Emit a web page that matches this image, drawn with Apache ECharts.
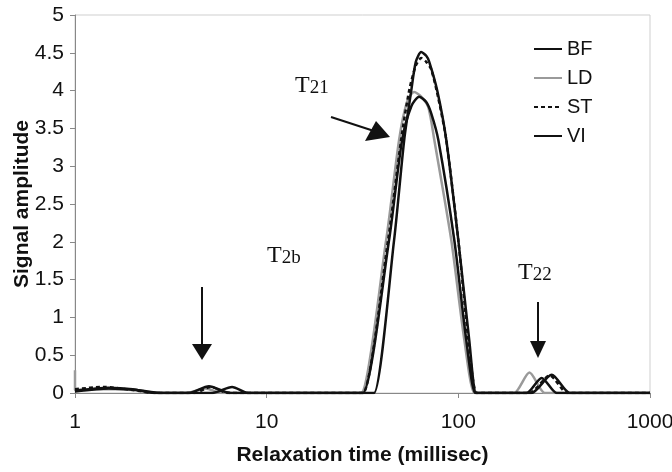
<!DOCTYPE html>
<html>
<head>
<meta charset="utf-8">
<script src="https://cdn.jsdelivr.net/npm/echarts@6/dist/echarts.min.js"></script>
<style>
html,body{margin:0;padding:0;background:#fff}
#main{width:672px;height:472px}
</style>
</head>
<body>
<div id="main"></div>
<script>
// legend order
var seriesNames = ['BF', 'LD', 'ST', 'VI'];

// relaxation time (ms) / amplitude
var bfTime = [1, 1.5, 2, 2.6, 3.9, 5.0, 6.0, 6.5, 34, 36.3, 46.2, 52.2, 56.8, 60, 64, 68, 70.5, 77.6, 86.5, 100, 114, 124, 132, 225, 241, 307, 381, 400, 1000];
var bfAmp  = [0.03, 0.07, 0.05, 0, 0, 0.09, 0.02, 0, 0, 0, 2.02, 3.35, 4.0, 4.38, 4.51, 4.46, 4.38, 4.0, 3.35, 2.02, 0.7, 0, 0, 0, 0, 0.24, 0, 0, 0];

var ldTime = [1, 1, 1.3, 1.7, 2.2, 2.7, 3.8, 4.8, 5.8, 29, 31.05, 42, 49.1, 54, 58.8, 64, 69.7, 74.9, 91.9, 107.5, 121.3, 129, 185, 196, 235, 282, 300, 1000];
var ldAmp  = [0.3, 0.04, 0.05, 0.05, 0.03, 0, 0, 0.06, 0, 0, 0, 2.02, 3.35, 3.85, 3.98, 3.92, 3.78, 3.35, 2.02, 0.7, 0, 0, 0, 0, 0.27, 0, 0, 0];

var stTime = [1, 1.4, 2, 2.6, 4.2, 5.1, 6.3, 30, 31.8, 43, 50.3, 55.4, 60, 64, 68, 72.2, 78.6, 86.5, 100, 112.8, 124.2, 132, 220, 235, 300, 370, 390, 1000];
var stAmp  = [0.05, 0.08, 0.04, 0, 0, 0.08, 0, 0, 0, 2.02, 3.35, 4.0, 4.33, 4.43, 4.38, 4.28, 3.9, 3.35, 2.02, 0.7, 0, 0, 0, 0, 0.23, 0, 0, 0];

var viTime = [1, 1.5, 2.1, 2.8, 5.2, 6.6, 8, 30, 31.8, 43.5, 50.9, 57, 62.5, 68, 72.2, 78.6, 95.3, 110, 122.7, 130, 212, 227, 272, 326, 345, 1000];
var viAmp  = [0.02, 0.06, 0.04, 0, 0, 0.08, 0, 0, 0, 2.02, 3.35, 3.8, 3.92, 3.85, 3.7, 3.35, 2.02, 0.7, 0, 0, 0, 0, 0.2, 0, 0, 0];

function pairs(t, v) {
  var out = [];
  for (var i = 0; i < t.length; i++) out.push([t[i], v[i]]);
  return out;
}

function curve(name, t, v, color, type) {
  return {
    name: name,
    type: 'line',
    data: pairs(t, v),
    symbol: 'none',
    smooth: 0.25,
    lineStyle: {color: color, width: 2.5, type: type},
    itemStyle: {color: color}
  };
}

// T label with small index, serif like the figure
function tLabel(x, y, idx) {
  return {
    type: 'text', left: x, top: y,
    style: {
      text: '{a|T}{b|' + idx + '}',
      rich: {
        a: {fontFamily: 'Liberation Serif', fontSize: 24, fill: '#111', verticalAlign: 'bottom'},
        b: {fontFamily: 'Liberation Serif', fontSize: 19, fill: '#111', verticalAlign: 'bottom'}
      }
    }
  };
}

var chart = echarts.init(document.getElementById('main'));
var option = {
  animation: false,
  grid: {left: 75, right: 22, top: 15, bottom: 79, outerBoundsMode: 'none',
    show: true, borderColor: '#cfcfcf', borderWidth: 1},
  legend: {
    orient: 'vertical', left: 528, top: 34,
    itemWidth: 28, itemHeight: 14, itemGap: 9,
    data: seriesNames,
    itemStyle: {color: 'rgba(0,0,0,0)', borderWidth: 0},
    textStyle: {fontFamily: 'Liberation Sans', fontSize: 20, color: '#111'}
  },
  xAxis: {
    type: 'log', logBase: 10, min: 1, max: 1000,
    name: 'Relaxation time (millisec)', nameLocation: 'middle', nameGap: 52, nameMoveOverlap: false,
    nameTextStyle: {fontFamily: 'Liberation Sans', fontWeight: 'bold', fontSize: 21, color: '#111'},
    axisLine: {lineStyle: {color: '#888', width: 1}},
    axisTick: {show: true, length: 5, lineStyle: {color: '#888'}},
    minorTick: {show: false},
    axisLabel: {fontFamily: 'Liberation Sans', fontSize: 21, color: '#111', margin: 19,
      formatter: function (v) { return String(v); }},
    splitLine: {show: false}
  },
  yAxis: {
    type: 'value', min: 0, max: 5, interval: 0.5,
    name: 'Signal amplitude', nameLocation: 'middle', nameGap: 42, nameMoveOverlap: false,
    nameTextStyle: {fontFamily: 'Liberation Sans', fontWeight: 'bold', fontSize: 21, color: '#111'},
    axisLine: {show: true, lineStyle: {color: '#888', width: 1}},
    axisTick: {show: true, length: 5, lineStyle: {color: '#888'}},
    axisLabel: {fontFamily: 'Liberation Sans', fontSize: 21, color: '#111', margin: 11},
    splitLine: {show: false}
  },
  series: [
    curve('LD', ldTime, ldAmp, '#9a9a9a', 'solid'),
    curve('VI', viTime, viAmp, '#111', 'solid'),
    curve('ST', stTime, stAmp, '#111', [4, 3]),
    curve('BF', bfTime, bfAmp, '#111', 'solid')
  ],
  graphic: [
    tLabel(295, 74, '21'),
    tLabel(267, 244, '2b'),
    tLabel(518, 261, '22'),
    {type: 'line', shape: {x1: 331, y1: 117, x2: 374, y2: 131}, style: {stroke: '#111', lineWidth: 2}},
    {type: 'polygon', shape: {points: [[390, 137], [365, 141], [376, 121]]}, style: {fill: '#111'}},
    {type: 'line', shape: {x1: 202, y1: 287, x2: 202, y2: 347}, style: {stroke: '#111', lineWidth: 2}},
    {type: 'polygon', shape: {points: [[192, 344], [212, 344], [202, 360]]}, style: {fill: '#111'}},
    {type: 'line', shape: {x1: 538, y1: 302, x2: 538, y2: 344}, style: {stroke: '#111', lineWidth: 2}},
    {type: 'polygon', shape: {points: [[530, 341], [546, 341], [538, 358]]}, style: {fill: '#111'}}
  ]
};
chart.setOption(option);
</script>
</body>
</html>
